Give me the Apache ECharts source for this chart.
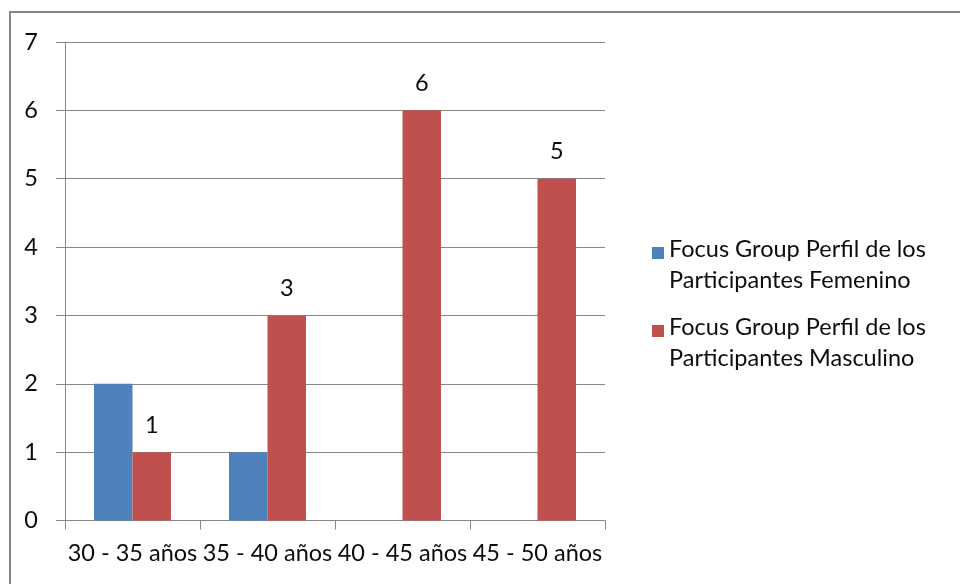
<!DOCTYPE html>
<html>
<head>
<meta charset="utf-8">
<script src="https://cdn.jsdelivr.net/npm/echarts@6/dist/echarts.min.js"></script>
<style>
  html, body { margin: 0; padding: 0; background: #fff; }
  #chart { width: 960px; height: 584px; }
</style>
</head>
<body>
<div id="chart"></div>
<script>
// Age ranges on the category axis
const categories = ['30 - 35 años', '35 - 40 años', '40 - 45 años', '45 - 50 años'];
// Participant counts per group (null = no bar)
const femenino = [2, 1, null, null];
const masculino = [1, 3, 6, 5];
const seriesNames = [
  'Focus Group Perfil de los Participantes Femenino',
  'Focus Group Perfil de los Participantes Masculino'
];
const yTicks = { min: 0, max: 7, interval: 1 };

const FONT = 'Lato, "Open Sans", sans-serif';
const FONT_SIZE = 23.5;
const TEXT_COLOR = '#0d0d0d';
const GRID_COLOR = '#868686';

// square marker sitting at the top of a taller box so it lines up with the first text line
const legendIcon = 'path://M0,0H12V12H0Z M0,35.99H0.01V36H0Z';

const chart = echarts.init(document.getElementById('chart'), null, { renderer: 'canvas' });
chart.setOption({
  animation: false,
  backgroundColor: '#fff',
  textStyle: { fontFamily: FONT },
  graphic: [{
    type: 'rect',
    shape: { x: 10, y: 12, width: 1200, height: 1000 },
    style: { fill: 'none', stroke: GRID_COLOR, lineWidth: 2 },
    silent: true
  }],
  grid: { left: 65, top: 42, right: 355, bottom: 63.5, containLabel: false },
  legend: {
    orient: 'vertical',
    left: 647,
    top: 229,
    itemWidth: 12,
    itemHeight: 36,
    itemGap: 16,
    icon: legendIcon,
    formatter: function (name) {
      return name.replace(' Participantes', '\nParticipantes');
    },
    textStyle: { fontFamily: FONT, fontSize: FONT_SIZE, color: TEXT_COLOR, lineHeight: 31, padding: 0 },
    data: seriesNames
  },
  xAxis: {
    type: 'category',
    data: categories,
    axisLine: { show: true, lineStyle: { color: GRID_COLOR, width: 1 } },
    axisTick: { show: true, alignWithLabel: false, length: 9, lineStyle: { color: GRID_COLOR } },
    axisLabel: { fontFamily: FONT, fontSize: FONT_SIZE, color: TEXT_COLOR, margin: 21, interval: 0 },
    splitLine: { show: false }
  },
  yAxis: {
    type: 'value',
    min: yTicks.min,
    max: yTicks.max,
    interval: yTicks.interval,
    axisLine: { show: true, lineStyle: { color: GRID_COLOR, width: 1 } },
    axisTick: { show: true, inside: false, length: 9, lineStyle: { color: GRID_COLOR } },
    axisLabel: { fontFamily: FONT, fontSize: FONT_SIZE, color: TEXT_COLOR, margin: 27 },
    splitLine: { show: true, lineStyle: { color: GRID_COLOR, width: 1 } }
  },
  series: [
    {
      name: seriesNames[0],
      type: 'bar',
      data: femenino,
      barWidth: 38.5,
      barGap: '0%',
      itemStyle: { color: '#4F81BD' },
      label: { show: false }
    },
    {
      name: seriesNames[1],
      type: 'bar',
      data: masculino,
      barWidth: 38.5,
      barGap: '0%',
      itemStyle: { color: '#C0504D' },
      label: {
        show: true,
        position: 'top',
        distance: 15,
        fontFamily: FONT,
        fontSize: FONT_SIZE,
        color: TEXT_COLOR
      }
    }
  ]
});
</script>
</body>
</html>
